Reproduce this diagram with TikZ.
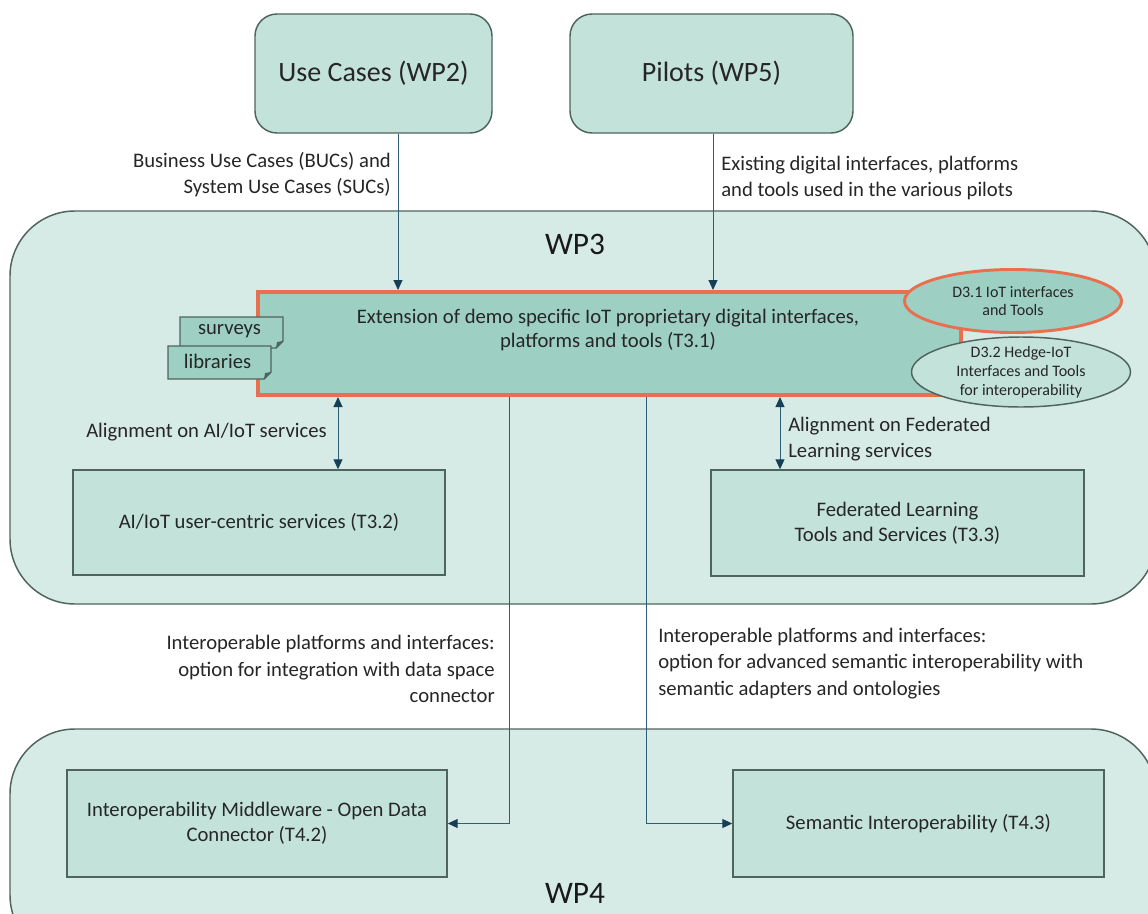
\documentclass[tikz,border=0pt]{standalone}
\usepackage{fontspec}
\setmainfont{Carlito}
\usetikzlibrary{calc,shapes.geometric,arrows.meta}
\definecolor{wpfill}{HTML}{D7EBE6}
\definecolor{boxfill}{HTML}{C3E2DA}
\definecolor{taskfill}{HTML}{9DD0C3}
\definecolor{edge}{HTML}{4E645D}
\definecolor{accent}{HTML}{E8704F}
\definecolor{link}{HTML}{2D5E75}
\definecolor{tipcol}{HTML}{163F57}
\begin{document}
\begin{tikzpicture}[x=0.75pt,y=-0.75pt,
  txt/.style={font=\fontsize{15.5}{19.5}\selectfont, inner sep=0pt, text=black!85},
  small/.style={font=\fontsize{12}{13.8}\selectfont, inner sep=0pt, align=center, text=black!85},
  wp/.style={draw=edge, line width=1.1pt, fill=wpfill, rounded corners=48.75pt, minimum width=859.5pt, inner sep=0pt},
  wptitle/.style={font=\fontsize{23.5}{26}\selectfont, inner sep=0pt, text=black!90},
  topbox/.style={draw=edge, line width=1.1pt, fill=boxfill, rounded corners=16.5pt, minimum height=89.25pt,
    font=\fontsize{21}{24}\selectfont, text=black!85},
  taskbox/.style={draw=edge, line width=1.1pt, fill=boxfill, minimum height=80.25pt, align=center,
    font=\fontsize{15.5}{19}\selectfont, text=black!85},
  mainbox/.style={draw=accent, line width=3pt, fill=taskfill, minimum width=527.25pt, minimum height=77.25pt},
  tagshape/.style={draw=edge, line width=1.1pt, fill=taskfill},
  arr/.style={draw=link, line width=0.75pt, -{Triangle[length=7.5pt,width=6.75pt,color=tipcol]}},
  darr/.style={draw=link, line width=0.75pt, {Triangle[length=7.5pt,width=6.75pt,color=tipcol]}-{Triangle[length=7.5pt,width=6.75pt,color=tipcol]}}
]
\useasboundingbox (0,0) rectangle (1148,913);
\clip (0,0) rectangle (1148,913);
\fill[white] (0,0) rectangle (1148,913);

% work package containers
\node[wp, minimum height=294.75pt] (wp3) at (583,407.5) {};
\node[wp, minimum height=173.25pt] (wp4) at (583,844.5) {};
\node[wptitle] (wp3t) at (575,244) {WP3};
\node[wptitle] (wp4t) at (575,893) {WP4};

% inputs from other work packages
\node[topbox, minimum width=177.75pt] (uc) at (373.5,73.5) {Use Cases (WP2)};
\node[topbox, minimum width=212.25pt] (pil) at (711.5,73.5) {Pilots (WP5)};

% T3.1
\node[mainbox] (t31) at (609.5,343.5) {};
\node[txt, align=center, font=\fontsize{15.5}{18}\selectfont] (t31t) at (608,330)
  {Extension of demo specific IoT proprietary digital interfaces,\\platforms and tools (T3.1)};

% surveys / libraries tags with folded corner
\coordinate (sv) at (231.5,332.5);
\draw[tagshape] ($(sv)+(-51.5,-15.5)$) -- ($(sv)+(51.5,-15.5)$) -- ($(sv)+(51.5,8.5)$)
  -- ($(sv)+(44.5,15.5)$) -- ($(sv)+(-51.5,15.5)$) -- cycle;
\fill[edge] ($(sv)+(51.5,8.5)$) -- ($(sv)+(44.5,15.5)$) -- ($(sv)+(45.5,9.5)$) -- cycle;
\node[txt] (surveys) at ($(sv)+(-2,-1)$) {surveys};
\coordinate (lb) at (219.5,362.5);
\draw[tagshape] ($(lb)+(-51.5,-16.5)$) -- ($(lb)+(51.5,-16.5)$) -- ($(lb)+(51.5,9.5)$)
  -- ($(lb)+(44.5,16.5)$) -- ($(lb)+(-51.5,16.5)$) -- cycle;
\fill[edge] ($(lb)+(51.5,9.5)$) -- ($(lb)+(44.5,16.5)$) -- ($(lb)+(45.5,10.5)$) -- cycle;
\node[txt] (libraries) at ($(lb)+(-2,-1)$) {libraries};

% deliverables
\node[ellipse, draw=accent, line width=2.2pt, fill=taskfill, minimum width=162.75pt, minimum height=47.25pt] (d31) at (1013,301) {};
\node[small] (d31t) at (1013,301) {D3.1 IoT interfaces\\and Tools};
\node[ellipse, draw=edge, line width=1.1pt, fill=boxfill, minimum width=164.25pt, minimum height=52.5pt] (d32) at (1021,372) {};
\node[small, font=\fontsize{12}{14.2}\selectfont] (d32t) at (1021,372) {D3.2 Hedge-IoT\\Interfaces and Tools\\for interoperability};

% T3.2 / T3.3
\node[taskbox, minimum width=279pt, minimum height=78.75pt] (t32) at (259,522.5) {AI/IoT user-centric services (T3.2)};
\node[taskbox, minimum width=279.75pt, minimum height=79.5pt] (t33) at (897.5,523) {Federated Learning\\Tools and Services (T3.3)};

% WP4 tasks
\node[taskbox, minimum width=285pt] (t42) at (257,823.5) {Interoperability Middleware - Open Data\\Connector (T4.2)};
\node[taskbox, minimum width=278.25pt] (t43) at (918.5,823.5) {Semantic Interoperability (T4.3)};

% connector start points
\coordinate (ucout) at ($(uc.south)+(24.5,0)$);
\coordinate (pilout) at ($(pil.south)+(1.5,0)$);
\coordinate (alL) at ($(t31.south)+(-271.5,0)$);
\coordinate (alR) at ($(t31.south)+(170.5,0)$);
\coordinate (toL) at ($(t31.south)+(-100.5,0)$);
\coordinate (toR) at ($(t31.south)+(36.5,0)$);

% connectors
\draw[arr] (ucout) -- (ucout |- t31.north);
\draw[arr] (pilout) -- (pilout |- t31.north);
\draw[darr] (alL) -- (alL |- t32.north);
\draw[darr] (alR) -- (alR |- t33.north);
\draw[arr] (toL) |- (t42.east);
\draw[arr] (toR) |- (t43.west);

% connector labels
\node[txt, align=right, anchor=east] (l1) at (391,175) {Business Use Cases (BUCs) and\\System Use Cases (SUCs)};
\node[txt, align=left, anchor=west] (l2) at (721,178) {Existing digital interfaces, platforms\\and tools used in the various pilots};
\node[txt, anchor=east] (l3) at (327,432) {Alignment on AI/IoT services};
\node[txt, align=left, anchor=west] (l4) at (788,439.5) {Alignment on Federated\\Learning services};
\node[txt, align=right, anchor=east, font=\fontsize{15.5}{19.8}\selectfont] (l5) at (495,669) {Interoperable platforms and interfaces:\\option for integration with data space\\connector};
\node[txt, align=left, anchor=west, font=\fontsize{15.5}{19.8}\selectfont] (l6) at (658,663.5) {Interoperable platforms and interfaces:\\option for advanced semantic interoperability with\\semantic adapters and ontologies};
\end{tikzpicture}
\end{document}
